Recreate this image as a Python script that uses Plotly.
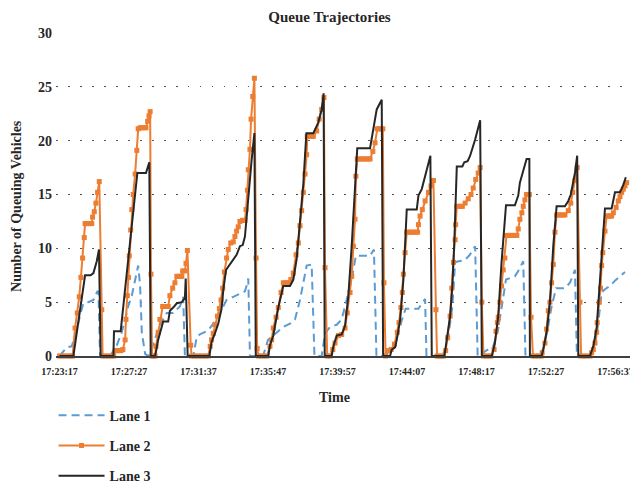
import plotly.graph_objects as go

tick_seconds = [0, 250, 500, 750, 1000, 1250, 1500, 1750, 2000]
tick_labels = ["17:23:17", "17:27:27", "17:31:37", "17:35:47", "17:39:57",
               "17:44:07", "17:48:17", "17:52:27", "17:56:37"]

# (seconds after 17:23:17, queued vehicles)
lane1 = [
    (0, 0), (26, 0.8), (44, 0.9), (63, 2.5), (74, 3.8), (86, 4.9), (103, 5.0), (122, 5.2), (136, 6.0), (140, 6.0), (146, 0),
    (182, 0), (206, 1.0), (224, 2.2), (236, 3.4), (247, 4.6), (260, 5.6), (272, 7.1), (283, 8.4), (290, 6.5), (296, 2.2), (308, 0.2),
    (318, 0), (326, 0.3), (337, 1.1), (350, 1.9), (360, 2.8), (386, 4.0), (409, 4.0), (433, 4.6), (445, 5.5), (451, 0),
    (481, 0), (494, 1.8), (505, 2.0), (529, 2.3), (541, 2.6), (553, 3.0), (571, 3.7), (589, 4.6), (601, 5.2), (625, 5.5),
    (649, 5.8), (667, 6.0), (676, 6.8), (679, 7.2), (685, 0),
    (732, 0), (750, 1.5), (781, 2.2), (805, 2.7), (829, 3.0), (847, 3.4), (865, 5.2), (883, 7.4), (889, 8.4), (907, 8.5), (917, 0),
    (943, 0), (955, 2.1), (973, 2.7), (997, 2.9), (1015, 3.4), (1033, 5.2), (1051, 7.1), (1066, 9.3), (1117, 9.3), (1131, 9.9), (1140, 0),
    (1171, 0), (1183, 0.3), (1201, 0.9), (1219, 2.2), (1231, 3.3), (1245, 4.4), (1291, 4.4), (1315, 5.3), (1320, 0),
    (1372, 0), (1387, 0.5), (1399, 1.9), (1413, 4.6), (1423, 8.7), (1435, 8.8), (1458, 8.9), (1476, 9.4), (1495, 10.2), (1504, 0),
    (1537, 0.5), (1560, 0.9), (1578, 2.5), (1594, 5.0), (1606, 7.1), (1638, 7.4), (1650, 7.9), (1668, 8.8), (1676, 0),
    (1710, 0), (1740, 0.6), (1758, 2.8), (1770, 4.6), (1786, 6.3), (1818, 6.3), (1836, 6.8), (1854, 8.0), (1861, 0),
    (1896, 0), (1914, 0.2), (1926, 0.9), (1938, 3.1), (1950, 5.9), (1962, 6.2), (1980, 6.5), (1998, 7.0), (2016, 7.4), (2034, 7.8),
]

lane2 = [
    (0, 0), (10, 0), (20, 0), (30, 0), (40, 0), (47, 0), (56, 2.6), (64, 4.0), (71, 5.5), (77, 7.3), (83, 9.1), (89, 11.0),
    (92, 12.3), (98, 12.3), (104, 12.3), (110, 12.3), (116, 12.3), (119, 12.9), (125, 13.4), (131, 14.2), (137, 15.2),
    (143, 16.2), (152, 4.3), (155, 0),
    (165, 0), (175, 0), (185, 0), (195, 0), (200, 0.5), (207, 0.5), (214, 0.5), (221, 0.5), (228, 0.6), (236, 1.5), (239, 3.4),
    (244, 5.6), (248, 7.3), (251, 9.3), (256, 11.7), (260, 13.6), (265, 15.0), (272, 16.9), (278, 19.1), (283, 21.1),
    (290, 21.2), (297, 21.2), (304, 21.2), (311, 21.2), (317, 21.8), (322, 22.3), (326, 22.7), (329, 7.6), (333, 0),
    (338, 0), (344, 0), (347, 0.9), (355, 2.2), (361, 3.4), (371, 4.6), (378, 4.6), (385, 4.6), (391, 4.6), (397, 5.6),
    (407, 6.3), (415, 6.8), (422, 7.4), (428, 7.4), (434, 7.4), (440, 7.4), (443, 7.9), (451, 7.9), (455, 8.6), (460, 9.8),
    (472, 1.0), (475, 0),
    (485, 0), (495, 0), (505, 0), (515, 0), (525, 0), (535, 0), (542, 0.9), (547, 1.5), (553, 2.1), (559, 2.9), (568, 3.7),
    (575, 4.4), (581, 5.2), (587, 6.3), (593, 7.8), (601, 9.1), (607, 9.9), (616, 10.5), (625, 10.6), (631, 11.1),
    (637, 11.6), (643, 12.0), (649, 12.5), (658, 12.6), (667, 12.6), (671, 13.6), (676, 15.4), (679, 17.3), (685, 19.2),
    (689, 22.0), (695, 24.1), (701, 25.8), (707, 9.1), (711, 0.7),
    (716, 0), (726, 0), (736, 0), (746, 0), (757, 0.9), (763, 1.5), (769, 2.6), (779, 3.6), (787, 4.5), (797, 5.9),
    (805, 6.8), (814, 6.8), (823, 6.8), (832, 7.1), (841, 7.7), (851, 9.4), (859, 10.5), (865, 12.1), (871, 13.5),
    (877, 15.2), (883, 16.9), (889, 18.7), (891, 20.4), (898, 20.4), (905, 20.4), (913, 20.4), (925, 20.9), (934, 22.0),
    (943, 22.9), (951, 24.0), (955, 8.2), (963, 0),
    (973, 0), (983, 0.6), (991, 1.2), (1003, 1.9), (1015, 2.0), (1027, 2.6), (1035, 4.0), (1045, 5.9), (1051, 7.4),
    (1057, 10.2), (1063, 12.7), (1066, 16.7), (1071, 18.3), (1079, 18.3), (1087, 18.3), (1095, 18.3), (1103, 18.3),
    (1110, 18.3), (1117, 18.3), (1127, 19.0), (1135, 19.8), (1143, 21.1), (1150, 21.1), (1157, 21.1), (1163, 21.1),
    (1167, 6.8), (1173, 0),
    (1183, 0.5), (1193, 0.6), (1205, 1.1), (1215, 2.2), (1221, 3.1), (1228, 4.5), (1233, 5.9), (1237, 7.6), (1243, 9.6),
    (1249, 11.5), (1257, 11.5), (1265, 11.5), (1273, 11.5), (1281, 11.5), (1288, 11.5), (1291, 12.2), (1297, 13.0),
    (1305, 13.6), (1315, 14.4), (1327, 15.2), (1336, 15.8), (1345, 16.3), (1354, 4.3), (1358, 0),
    (1365, 0), (1375, 0), (1381, 0), (1389, 0.5), (1396, 1.7), (1405, 3.7), (1411, 6.3), (1417, 8.7), (1423, 10.8),
    (1425, 12.2), (1429, 13.9), (1436, 13.9), (1443, 13.9), (1449, 13.9), (1459, 14.2), (1470, 14.6), (1480, 15.0),
    (1488, 15.6), (1497, 16.4), (1506, 17.0), (1513, 17.5), (1519, 5.0), (1525, 0),
    (1535, 0), (1545, 0), (1552, 0), (1563, 0.6), (1570, 2.3), (1575, 3.1), (1578, 3.6), (1584, 5.0), (1590, 6.5),
    (1596, 8.0), (1602, 9.1), (1608, 11.2), (1615, 11.2), (1622, 11.2), (1630, 11.2), (1638, 11.2), (1645, 11.2),
    (1650, 11.8), (1656, 12.7), (1663, 13.3), (1668, 13.9), (1674, 14.5), (1680, 15.0), (1690, 15.0), (1696, 3.6), (1703, 0),
    (1713, 0), (1723, 0), (1733, 0), (1736, 0.3), (1746, 1.2), (1752, 2.5), (1758, 4.2), (1764, 5.0), (1770, 6.8),
    (1776, 8.5), (1782, 11.5), (1788, 13.1), (1796, 13.1), (1803, 13.1), (1811, 13.1), (1818, 13.1), (1830, 13.5),
    (1839, 14.2), (1846, 15.2), (1854, 16.3), (1862, 17.5), (1872, 5.0), (1876, 0),
    (1886, 0), (1896, 0), (1908, 0), (1914, 0.3), (1920, 0.6), (1926, 1.2), (1932, 2.2), (1934, 3.1), (1941, 5.0),
    (1946, 6.3), (1950, 8.4), (1954, 9.6), (1962, 11.6), (1968, 13.0), (1974, 13.0), (1980, 13.0), (1986, 13.0),
    (1992, 13.3), (2002, 13.8), (2010, 14.4), (2016, 14.8), (2022, 15.2), (2028, 15.5), (2034, 15.8), (2040, 16.1),
]

lane3 = [
    (0, 0), (50, 0), (92, 7.5), (112, 7.5), (122, 7.7), (134, 8.8), (142, 9.9), (148, 0),
    (194, 0), (196, 2.3), (220, 2.3), (280, 17.0), (311, 17.0), (323, 18.0), (328, 0),
    (344, 0), (355, 1.5), (373, 3.2), (391, 3.2), (397, 4.2), (409, 4.5), (422, 4.9), (440, 5.0), (451, 5.4), (454, 7.2), (461, 0),
    (539, 0), (547, 1.3), (559, 2.1), (571, 3.0), (583, 4.4), (589, 6.1), (599, 8.0), (613, 8.5), (625, 8.9), (637, 9.4),
    (649, 10.2), (659, 10.3), (667, 11.1), (679, 15.1), (691, 18.2), (701, 20.7), (706, 0),
    (751, 0), (757, 1.0), (769, 1.9), (787, 4.5), (805, 6.5), (829, 6.5), (841, 7.1), (853, 9.0), (865, 12.5), (877, 16.0),
    (888, 20.7), (913, 20.7), (931, 21.7), (943, 22.9), (950, 24.4), (954, 0),
    (979, 0), (985, 0.9), (997, 1.9), (1015, 2.0), (1027, 2.8), (1039, 5.6), (1051, 10.2), (1063, 15.5), (1071, 19.3),
    (1117, 19.3), (1129, 21.1), (1141, 22.9), (1159, 23.8), (1164, 0),
    (1189, 0), (1195, 0.6), (1207, 0.8), (1213, 1.5), (1225, 3.3), (1237, 7.1), (1249, 13.6), (1285, 13.6), (1291, 14.9),
    (1303, 15.5), (1321, 17.3), (1334, 18.6), (1339, 0),
    (1384, 0), (1389, 0.8), (1405, 3.7), (1413, 6.5), (1420, 10.5), (1429, 17.6), (1449, 17.6), (1456, 18.0), (1468, 18.1),
    (1477, 18.6), (1495, 20.1), (1513, 21.9), (1519, 0),
    (1555, 0), (1560, 0.5), (1566, 1.2), (1578, 3.7), (1590, 8.7), (1606, 14.0), (1638, 14.0), (1650, 14.9), (1656, 16.1),
    (1668, 17.2), (1680, 18.3), (1690, 18.3), (1692, 0),
    (1734, 0), (1740, 0.6), (1752, 2.2), (1764, 5.0), (1776, 10.2), (1788, 13.9), (1818, 13.9), (1830, 14.4), (1839, 15.0),
    (1854, 17.0), (1862, 18.6), (1866, 0),
    (1908, 0), (1914, 0.5), (1920, 0.9), (1932, 2.6), (1944, 6.8), (1954, 11.1), (1962, 13.7), (1986, 13.7), (1992, 14.4),
    (1998, 15.2), (2016, 15.2), (2028, 15.9), (2037, 16.6),
]

FONT = "Liberation Serif"
BLUE = "#5B9BD5"
ORANGE = "#ED7D31"
BLACK = "#262626"
TXT = "#262626"

fig = go.Figure()
fig.add_trace(go.Scatter(
    x=[p[0] for p in lane1], y=[p[1] for p in lane1], mode="lines", name="Lane 1",
    legendgroup="g1", line=dict(color=BLUE, width=2, dash="8px,5px"), cliponaxis=False))
fig.add_trace(go.Scatter(
    x=[p[0] for p in lane2], y=[p[1] for p in lane2], mode="lines+markers", name="Lane 2",
    legendgroup="g2", line=dict(color=ORANGE, width=2),
    marker=dict(symbol="square", size=5, color=ORANGE), cliponaxis=False))
fig.add_trace(go.Scatter(
    x=[p[0] for p in lane3], y=[p[1] for p in lane3], mode="lines", name="Lane 3",
    legendgroup="g3", line=dict(color=BLACK, width=2), cliponaxis=False))

fig.update_layout(
    width=630, height=485,
    margin=dict(l=56, r=0, t=33, b=129, autoexpand=False),
    paper_bgcolor="white", plot_bgcolor="white",
    font=dict(family=FONT, color=TXT),
    title=dict(text="Queue Trajectories", x=0.523, xanchor="center", y=0.965, yanchor="middle",
               font=dict(family=FONT, size=15, weight="bold", color=TXT)),
    showlegend=True,
    legend=dict(xref="container", yref="container", x=0.085, y=0.176, xanchor="left", yanchor="top",
                orientation="v", tracegroupgap=9, itemwidth=46,
                font=dict(family=FONT, size=14, weight="bold", color=TXT)),
    xaxis=dict(range=[-12.6, 2052], tickvals=tick_seconds, ticktext=tick_labels, automargin=False,
               tickfont=dict(family=FONT, size=10, weight="bold", color=TXT),
               showgrid=False, zeroline=False, showline=True, linecolor="#404040", linewidth=1.5,
               ticks="", ticklabelstandoff=5, ticklabeloverflow="allow"),
    yaxis=dict(range=[0, 30], dtick=5, tick0=0, automargin=False,
               tickfont=dict(family=FONT, size=14, weight="bold", color=TXT),
               showgrid=True, gridcolor="#555555", gridwidth=1, griddash="1.5px,10.5px",
               zeroline=False, showline=False, ticks="", ticklabelstandoff=3),
    annotations=[
        dict(text="Number of Queuing Vehicles", xref="paper", yref="paper", x=-0.07, y=0.464,
             xanchor="center", yanchor="middle", textangle=-90, showarrow=False,
             font=dict(family=FONT, size=14, weight="bold", color=TXT)),
        dict(text="Time", xref="paper", yref="paper", x=0.485, y=-0.127,
             xanchor="center", yanchor="middle", showarrow=False,
             font=dict(family=FONT, size=14, weight="bold", color=TXT)),
    ],
)

fig.write_html("out.html")
